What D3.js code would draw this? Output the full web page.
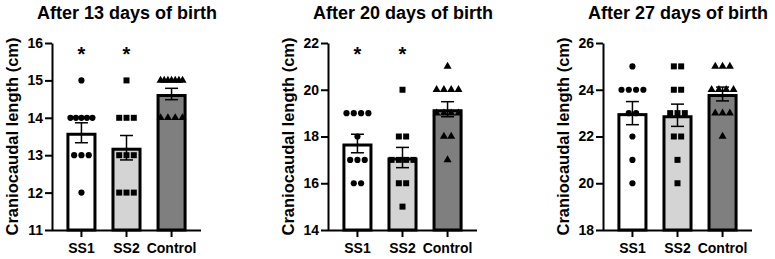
<!DOCTYPE html>
<html>
<head>
<meta charset="utf-8">
<script src="https://cdn.jsdelivr.net/npm/d3@7"></script>
<style>
  body { margin: 0; background: #fff; }
  svg { display: block; font-family: Arial, "Liberation Sans", sans-serif; font-weight: bold; }
</style>
</head>
<body>
<div id="chart"></div>
<script>
const width = 775;
const height = 259;

const groups = ["SS1", "SS2", "Control"];
const titles = ["After 13 days of birth", "After 20 days of birth", "After 27 days of birth"];
const yLabel = "Craniocaudal length (cm)";

// one value per animal, grouped SS1 / SS2 / Control
const day13 = [
    [15, 14, 14, 14, 14, 14, 13, 13, 13, 12],
    [15, 14, 14, 14, 13, 13, 13, 12, 12, 12],
    [15, 15, 15, 15, 15, 15, 15, 14, 14, 14, 14]
];
const day20 = [
    [19, 19, 19, 19, 18, 17, 17, 17, 16, 16],
    [20, 18, 18, 17, 17, 17, 17, 16, 16, 15],
    [21, 20, 20, 20, 20, 19, 19, 19, 19, 18, 18, 17]
];
const day27 = [
    [25, 24, 24, 24, 24, 23, 23, 22, 21, 20],
    [25, 25, 24, 24, 23, 23, 23, 22, 22, 21, 20],
    [25, 25, 25, 24, 24, 24, 24, 23, 23, 23, 22]
];
const yDomains = [[11, 16], [14, 22], [18, 26]];
const yTicks = [[11, 12, 13, 14, 15, 16], [14, 16, 18, 20, 22], [18, 20, 22, 24, 26]];
const stars = [["*", "*", ""], ["*", "*", ""], ["", "", ""]];

const panels = [day13, day20, day27];
const panelX = [52, 328, 603];
const plotW = 149;
const yTop = 43;
const yBottom = 230;

const fills = ["#ffffff", "#d4d4d4", "#7f7f7f"];
const symbols = [d3.symbolCircle, d3.symbolSquare, d3.symbolTriangle];
const symbolSizes = [30, 36, 28];

const svg = d3.select("#chart")
    .append("svg")
    .attr("width", width)
    .attr("height", height)
    .attr("viewBox", [0, 0, width, height]);

// spread points with equal values side by side, squeezed to fit the bar
const spreadPoints = (vals) => {
    const counts = d3.rollup(vals, v => v.length, v => v);
    const seen = new Map();
    return vals.map(v => {
        const k = counts.get(v);
        const i = seen.get(v) || 0;
        seen.set(v, i + 1);
        const step = k > 1 ? Math.min(7.3, 22 / (k - 1)) : 0;
        return { value: v, dx: (i - (k - 1) / 2) * step };
    });
};

panels.forEach((panel, p) => {
    const x0 = panelX[p];

    const x = d3.scaleBand()
        .domain(groups)
        .range([x0, x0 + plotW])
        .paddingInner(1 / 3)
        .paddingOuter(0.32);

    const y = d3.scaleLinear()
        .domain(yDomains[p])
        .range([yBottom, yTop]);

    const g = svg.append("g");

    const stats = panel.map((vals, i) => {
        const mean = d3.mean(vals);
        const sem = d3.deviation(vals) / Math.sqrt(vals.length);
        return { group: groups[i], mean, sem, i };
    });

    // bars
    g.append("g")
        .selectAll()
        .data(stats)
        .join("rect")
        .attr("x", d => x(d.group) + 1.5)
        .attr("y", d => y(d.mean) + 1.5)
        .attr("width", x.bandwidth() - 3)
        .attr("height", d => y(yDomains[p][0]) - y(d.mean) - 1.5)
        .attr("fill", d => fills[d.i])
        .attr("stroke", "#000")
        .attr("stroke-width", 3);

    // points
    panel.forEach((vals, i) => {
        const cx = x(groups[i]) + x.bandwidth() / 2;
        g.append("g")
            .selectAll()
            .data(spreadPoints(vals))
            .join("path")
            .attr("transform", d => `translate(${cx + d.dx},${y(d.value)})`)
            .attr("d", d3.symbol(symbols[i], symbolSizes[i]))
            .attr("fill", "#000");
    });

    // error bars (mean +/- SEM)
    const capW = 13;
    const eb = g.append("g")
        .attr("stroke", "#000")
        .attr("stroke-width", 1.5)
        .selectAll()
        .data(stats)
        .join("g")
        .attr("transform", d => `translate(${x(d.group) + x.bandwidth() / 2},0)`);
    eb.append("line")
        .attr("y1", d => y(d.mean - d.sem))
        .attr("y2", d => y(d.mean + d.sem));
    eb.append("line")
        .attr("x1", -capW / 2).attr("x2", capW / 2)
        .attr("y1", d => y(d.mean + d.sem)).attr("y2", d => y(d.mean + d.sem));
    eb.append("line")
        .attr("x1", -capW / 2).attr("x2", capW / 2)
        .attr("y1", d => y(d.mean - d.sem)).attr("y2", d => y(d.mean - d.sem));

    // significance stars
    g.append("g")
        .attr("text-anchor", "middle")
        .attr("font-size", 20)
        .selectAll()
        .data(stars[p])
        .join("text")
        .attr("x", (d, i) => x(groups[i]) + x.bandwidth() / 2)
        .attr("y", 61)
        .text(d => d);

    // axes
    g.append("g")
        .attr("transform", `translate(${x0},0)`)
        .call(d3.axisLeft(y).tickValues(yTicks[p]).tickFormat(d3.format("d"))
            .tickSize(7).tickPadding(2).tickSizeOuter(0))
        .call(a => a.selectAll("path, line").attr("stroke-width", 2))
        .call(a => a.selectAll("text").attr("font-size", 14).attr("font-weight", "bold").attr("fill", "#000"))
        .attr("font-family", null);

    g.append("g")
        .attr("transform", `translate(0,${yBottom})`)
        .call(d3.axisBottom(x).tickSize(7).tickPadding(6).tickSizeOuter(0))
        .call(a => a.select(".domain").attr("d", `M${x0},0.5H${x0 + plotW}`))
        .call(a => a.selectAll("path, line").attr("stroke-width", 2))
        .call(a => a.selectAll("text").attr("font-size", 14).attr("font-weight", "bold").attr("fill", "#000"))
        .attr("font-family", null);

    // title and y label
    g.append("text")
        .attr("x", x0 + 75)
        .attr("y", 18.5)
        .attr("text-anchor", "middle")
        .attr("font-size", 18)
        .text(titles[p]);

    g.append("text")
        .attr("transform", `translate(${x0 - 34},${(yTop + yBottom) / 2}) rotate(-90)`)
        .attr("text-anchor", "middle")
        .attr("font-size", 16.5)
        .text(yLabel);
});
</script>
</body>
</html>
